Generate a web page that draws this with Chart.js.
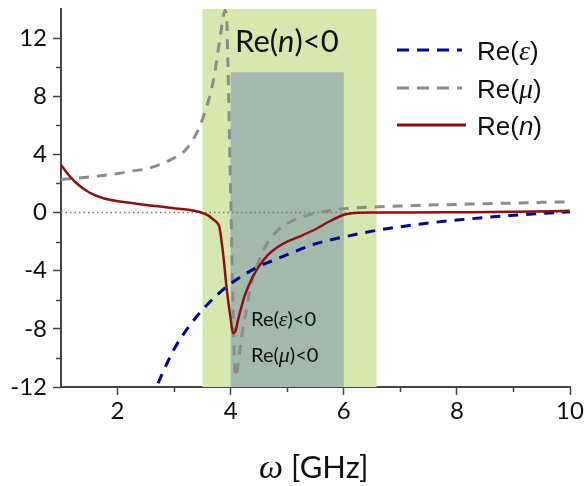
<!DOCTYPE html>
<html>
<head>
<meta charset="utf-8">
<script src="https://cdn.jsdelivr.net/npm/chart.js@4/dist/chart.umd.min.js"></script>
<style>
  html, body { margin: 0; padding: 0; background: #ffffff; }
  canvas { display: block; }
</style>
</head>
<body>
<canvas id="chart" width="584" height="486"></canvas>
<script>
// Frequency grids (GHz) and real parts of the effective parameters
const freqEps = [2.6, 2.7, 2.8, 3.0, 3.25, 3.5, 3.75, 4.0, 4.25, 4.5, 4.75, 5.0, 5.5, 6.0, 6.5, 7.0, 7.5, 8.0, 8.5, 9.0, 9.5, 10.0];
const reEps   = [-12.9, -11.9, -11.0, -9.4, -7.9, -6.7, -5.7, -4.9, -4.25, -3.7, -3.3, -2.9, -2.15, -1.68, -1.28, -0.98, -0.72, -0.52, -0.34, -0.19, -0.06, 0.05];

const freqMu = [1.0, 1.25, 1.5, 1.75, 2.0, 2.25, 2.5, 2.75, 3.0, 3.15, 3.3, 3.45, 3.6, 3.7, 3.77, 3.83, 3.87, 3.9, 3.93, 3.95, 3.97, 3.99, 4.01, 4.03, 4.05, 4.07, 4.09, 4.12, 4.16, 4.2, 4.25, 4.3, 4.35, 4.45, 4.55, 4.65, 4.8, 5.0, 5.2, 5.4, 5.6, 5.8, 6.0, 6.5, 7.0, 7.5, 8.0, 8.5, 9.0, 9.5, 10.0];
const reMu   = [2.28, 2.35, 2.45, 2.55, 2.68, 2.85, 3.0, 3.3, 3.75, 4.1, 4.8, 5.9, 7.6, 9.2, 10.9, 12.5, 13.5, 13.9, 13.3, 10.5, 7.0, 3.0, -0.5, -4.5, -8.0, -10.5, -11.3, -10.8, -9.5, -8.4, -7.3, -6.2, -5.1, -3.8, -2.85, -2.1, -1.35, -0.75, -0.38, -0.13, 0.03, 0.16, 0.26, 0.38, 0.45, 0.51, 0.56, 0.61, 0.65, 0.7, 0.74];

const freqN = [1.0, 1.1, 1.25, 1.5, 1.75, 2.0, 2.25, 2.5, 2.75, 3.0, 3.25, 3.45, 3.6, 3.7, 3.76, 3.8, 3.84, 3.88, 3.92, 3.96, 4.0, 4.04, 4.08, 4.13, 4.19, 4.25, 4.31, 4.4, 4.5, 4.65, 4.8, 5.0, 5.25, 5.5, 5.75, 6.0, 6.2, 6.5, 7.0, 8.0, 9.0, 10.0];
const reN   = [3.27, 2.75, 2.1, 1.38, 0.98, 0.78, 0.65, 0.52, 0.41, 0.3, 0.19, 0.04, -0.2, -0.5, -0.7, -1.0, -2.0, -3.3, -4.9, -6.2, -7.3, -8.3, -8.2, -7.4, -6.5, -5.7, -5.1, -4.35, -3.7, -2.95, -2.45, -2.0, -1.6, -1.15, -0.6, -0.15, -0.03, 0.0, 0.0, 0.02, 0.05, 0.12];

// Axis ranges and tick steps
const xRange = [1, 10];
const yRange = [-12, 14];
const xMajorTicks = [2, 4, 6, 8, 10];
const xMinorTicks = [3, 5, 7, 9];
const yMajorTicks = [-12, -8, -4, 0, 4, 8, 12];
const yMinorTicks = [-10, -6, -2, 2, 6, 10];

// Frequency bands: Re(n)<0 window and double-negative window
const negIndexBand = [3.5, 6.58];
const doubleNegBand = [4.0, 6.0];
const doubleNegTop = 9.65;

const COLOR_EPS = '#00088c';
const COLOR_MU = '#8c8c8c';
const COLOR_N = '#8b1212';
const AXIS = '#454545';

const pts = (xs, ys) => xs.map((x, i) => ({ x: x, y: ys[i] }));

const decor = {
  id: 'decor',
  beforeDatasetsDraw(chart) {
    const { ctx, chartArea: a, scales: { x, y } } = chart;
    ctx.save();
    ctx.fillStyle = '#d6e8b0';
    const gx0 = x.getPixelForValue(negIndexBand[0]);
    const gx1 = x.getPixelForValue(negIndexBand[1]);
    ctx.fillRect(gx0, a.top, gx1 - gx0, a.bottom - a.top);
    ctx.fillStyle = '#a4b9ad';
    const dx0 = x.getPixelForValue(doubleNegBand[0]);
    const dx1 = x.getPixelForValue(doubleNegBand[1]);
    const dyT = y.getPixelForValue(doubleNegTop);
    ctx.fillRect(dx0, dyT, dx1 - dx0, a.bottom - dyT);
    ctx.restore();
  },
  afterDatasetsDraw(chart) {
    const { ctx, chartArea: a, scales: { x, y } } = chart;
    ctx.save();

    // minor ticks
    ctx.strokeStyle = AXIS;
    ctx.lineWidth = 1.5;
    ctx.beginPath();
    xMinorTicks.forEach(v => {
      const px = Math.round(x.getPixelForValue(v)) + 0.5;
      ctx.moveTo(px, a.bottom);
      ctx.lineTo(px, a.bottom + 5);
    });
    yMinorTicks.forEach(v => {
      const py = Math.round(y.getPixelForValue(v)) + 0.5;
      ctx.moveTo(a.left, py);
      ctx.lineTo(a.left - 5, py);
    });
    ctx.stroke();

    const rich = (x0, base, parts) => {
      let cx = x0;
      parts.forEach(p => {
        ctx.font = p.f;
        ctx.fillStyle = p.c || '#111';
        ctx.fillText(p.t, cx, base);
        cx += ctx.measureText(p.t).width;
      });
    };
    ctx.textBaseline = 'alphabetic';
    ctx.textAlign = 'left';

    // band labels
    const lato = s => `${s}px Lato`;
    const latoI = s => `italic ${s}px Lato`;
    const serifI = s => `italic ${s}px "Liberation Serif"`;
    rich(235, 52, [{ t: 'Re(', f: lato(31) }, { t: 'n', f: latoI(31) }, { t: ')<0', f: lato(31) }]);
    rich(251, 326, [{ t: 'Re(', f: lato(20) }, { t: 'ε', f: serifI(22) }, { t: ')<0', f: lato(20) }]);
    rich(251, 362, [{ t: 'Re(', f: lato(20) }, { t: 'μ', f: serifI(22) }, { t: ')<0', f: lato(20) }]);

    // legend
    const sans = s => `${s}px "Liberation Sans"`;
    const sansI = s => `italic ${s}px "Liberation Sans"`;
    const rows = [
      { y: 50, color: COLOR_EPS, dash: [12, 8], sym: 'ε', symFont: serifI(28) },
      { y: 88, color: COLOR_MU, dash: [12, 8], sym: 'μ', symFont: serifI(28) },
      { y: 125, color: COLOR_N, dash: [], sym: 'n', symFont: sansI(26) }
    ];
    rows.forEach(r => {
      ctx.strokeStyle = r.color;
      ctx.lineWidth = 3;
      ctx.setLineDash(r.dash);
      ctx.beginPath();
      ctx.moveTo(397, r.y);
      ctx.lineTo(r.dash.length ? 462 : 466, r.y);
      ctx.stroke();
      ctx.setLineDash([]);
      rich(477, r.y + 9.5, [{ t: 'Re(', f: sans(26) }, { t: r.sym, f: r.symFont }, { t: ')', f: sans(26) }]);
    });

    // x-axis title
    rich(259, 478, [{ t: 'ω', f: serifI(34) }, { t: ' [GHz]', f: lato(31) }]);

    ctx.restore();
  }
};

new Chart(document.getElementById('chart'), {
  type: 'line',
  data: {
    datasets: [
      {
        label: 'Re(n)', data: pts(freqN, reN),
        borderColor: COLOR_N, borderWidth: 2.5, pointRadius: 0,
        cubicInterpolationMode: 'monotone', fill: false
      },
      {
        label: 'Re(ε)', data: pts(freqEps, reEps),
        borderColor: COLOR_EPS, borderWidth: 3, borderDash: [10, 8], pointRadius: 0,
        cubicInterpolationMode: 'monotone', fill: false
      },
      {
        label: 'Re(μ)', data: pts(freqMu, reMu),
        borderColor: COLOR_MU, borderWidth: 3, borderDash: [10, 8], pointRadius: 0,
        cubicInterpolationMode: 'monotone', fill: false
      },
      {
        label: 'zero', data: pts(xRange, [0, 0]),
        borderColor: '#7a7a7a', borderWidth: 1.5, borderDash: [1.5, 3], pointRadius: 0, fill: false
      }
    ]
  },
  options: {
    responsive: false,
    animation: false,
    events: [],
    layout: { padding: { top: 9, right: 14, left: 0, bottom: 0 } },
    plugins: { legend: { display: false }, tooltip: { enabled: false } },
    scales: {
      x: {
        type: 'linear', min: xRange[0], max: xRange[1],
        ticks: {
          stepSize: 1, autoSkip: false, maxRotation: 0, padding: 2,
          callback: v => xMajorTicks.includes(v) ? String(v) : '',
          font: { family: 'Lato', size: 24 }, color: '#111'
        },
        grid: {
          drawOnChartArea: false, tickLength: 8, tickWidth: 1.5,
          tickColor: c => (c.tick && xMajorTicks.includes(c.tick.value)) ? AXIS : 'rgba(0,0,0,0)'
        },
        border: { color: AXIS, width: 2 },
        afterFit: s => { s.height = 99; s.paddingLeft = 0; s.paddingRight = 0; }
      },
      y: {
        type: 'linear', min: yRange[0], max: yRange[1],
        ticks: {
          stepSize: 2, autoSkip: false, padding: 6,
          callback: v => yMajorTicks.includes(v) ? String(v) : '',
          font: { family: 'Lato', size: 24 }, color: '#111'
        },
        grid: {
          drawOnChartArea: false, tickLength: 8, tickWidth: 1.5,
          tickColor: c => (c.tick && yMajorTicks.includes(c.tick.value)) ? AXIS : 'rgba(0,0,0,0)'
        },
        border: { color: AXIS, width: 2 },
        afterFit: s => { s.width = 61; s.paddingTop = 0; s.paddingBottom = 0; }
      }
    }
  },
  plugins: [decor]
});
</script>
</body>
</html>
